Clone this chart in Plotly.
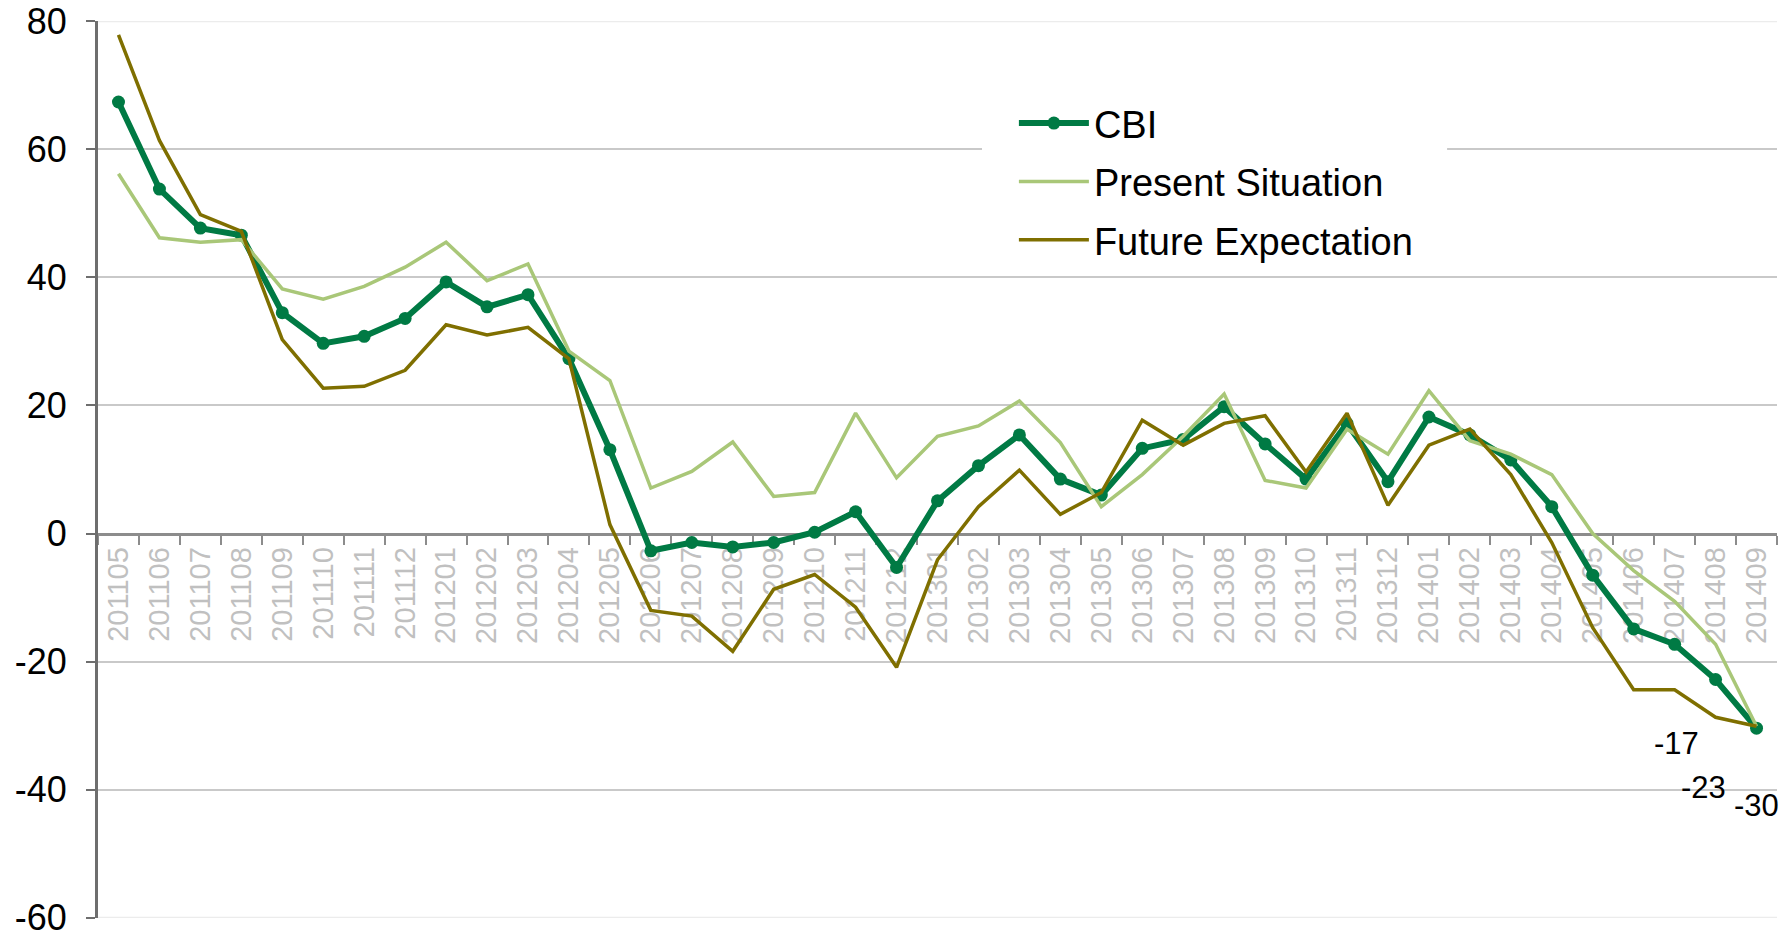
import plotly.graph_objects as go

months = ["201105", "201106", "201107", "201108", "201109", "201110", "201111", "201112",
          "201201", "201202", "201203", "201204", "201205", "201206", "201207", "201208",
          "201209", "201210", "201211", "201212", "201301", "201302", "201303", "201304",
          "201305", "201306", "201307", "201308", "201309", "201310", "201311", "201312",
          "201401", "201402", "201403", "201404", "201405", "201406", "201407", "201408",
          "201409"]

cbi = [67.4, 53.8, 47.7, 46.6, 34.5, 29.7, 30.8, 33.6, 39.3, 35.4, 37.3, 27.3, 13.1,
       -2.7, -1.4, -2.1, -1.4, 0.2, 3.4, -5.3, 5.1, 10.6, 15.4, 8.5, 6.0, 13.3, 14.7,
       19.8, 14.0, 8.5, 17.2, 8.1, 18.2, 15.4, 11.5, 4.2, -6.5, -14.9, -17.3, -22.8, -30.4]

present = [56.2, 46.2, 45.5, 45.9, 38.2, 36.6, 38.6, 41.6, 45.5, 39.5, 42.1, 28.5, 23.9,
           7.1, 9.7, 14.3, 5.8, 6.4, 18.8, 8.7, 15.2, 16.8, 20.7, 14.2, 4.2, 9.2, 15.2,
           21.8, 8.3, 7.1, 16.3, 12.4, 22.3, 14.5, 12.4, 9.2, 0.0, -5.8, -10.6, -17.3, -30.1]

future = [77.9, 61.4, 49.8, 47.2, 30.3, 22.7, 23.0, 25.5, 32.6, 31.0, 32.2, 27.3, 1.4,
          -12.0, -12.9, -18.4, -8.7, -6.4, -11.5, -20.9, -4.1, 4.2, 9.9, 3.0, 6.4, 17.7,
          13.8, 17.2, 18.4, 9.6, 18.8, 4.4, 13.8, 16.3, 9.2, -1.4, -14.7, -24.4, -24.4,
          -28.7, -30.1]

label_months = ["201407", "201408", "201409"]
label_texts = ["-17", "-23", "-30"]

y_ticks = [-60, -40, -20, 0, 20, 40, 60, 80]
y_tick_labels = ["-60", "-40", "-20", "0", "20", "40", "60", "80"]

series_names = ["CBI", "Present Situation", "Future Expectation"]

C_CBI = "#007A44"
C_PRES = "#A9C778"
C_FUT = "#7F6F00"
FONT = "Liberation Sans, Arial, sans-serif"

fig = go.Figure()
fig.add_trace(go.Scatter(
    x=months, y=cbi, name=series_names[0], mode="lines+markers",
    line=dict(color=C_CBI, width=6), marker=dict(size=13, color=C_CBI),
    legendgroup="a"))
fig.add_trace(go.Scatter(
    x=months, y=present, name=series_names[1], mode="lines",
    line=dict(color=C_PRES, width=3.5), legendgroup="b"))
fig.add_trace(go.Scatter(
    x=months, y=future, name=series_names[2], mode="lines",
    line=dict(color=C_FUT, width=3.5), legendgroup="c"))

shifts = {"201407": (2, -99), "201408": (-12, -108), "201409": (0, -77)}
for m, t in zip(label_months, label_texts):
    i = months.index(m)
    xs, ys = shifts[m]
    fig.add_annotation(x=i, y=cbi[i], xref="x", yref="y", text=t, showarrow=False,
                       xshift=xs, yshift=ys,
                       font=dict(family=FONT, size=31, color="black"))

# white area behind the legend, hiding the gridline as in the reference
fig.add_shape(type="rect", xref="paper", yref="y", x0=0.5265, x1=0.8035, y0=44, y1=76,
              fillcolor="white", line=dict(width=0), layer="above")

# faint edge gridlines at the ends of the value axis
for yv in (y_ticks[0], y_ticks[-1]):
    fig.add_shape(type="line", xref="paper", yref="y", x0=0, x1=1, y0=yv, y1=yv,
                  line=dict(color="#ececec", width=2), layer="between")

fig.update_layout(
    width=1787, height=940,
    margin=dict(l=98, r=10, t=21, b=22, autoexpand=False),
    paper_bgcolor="white", plot_bgcolor="white",
    font=dict(family=FONT, color="black"),
    showlegend=True,
    legend=dict(x=0.5455, y=0.921, xanchor="left", yanchor="top",
                bgcolor="rgba(255,255,255,0)", borderwidth=0,
                font=dict(family=FONT, size=38, color="black"),
                tracegroupgap=6, itemwidth=70, traceorder="grouped"),
    xaxis=dict(type="category", categoryorder="array", categoryarray=months,
               range=[-0.5, len(months) - 0.5], automargin=False,
               anchor="free", position=60 / 140,
               showline=True, linecolor="#8c8c8c", linewidth=3,
               ticks="outside", ticklen=9, tickwidth=2, tickcolor="#8c8c8c",
               tickson="boundaries", tickangle=-90,
               tickfont=dict(family=FONT, size=29, color="#c0c0c0"),
               showgrid=False, zeroline=False, layer="below traces"),
    yaxis=dict(range=[-60.05, 80.05], tickmode="array", tickvals=y_ticks,
               ticktext=y_tick_labels, ticklabeloverflow="allow", automargin=False,
               showline=True, linecolor="#6e6e6e", linewidth=3,
               ticks="outside", ticklen=9, tickwidth=2, tickcolor="#6e6e6e",
               showgrid=True, gridcolor="#c9c9c9", gridwidth=2,
               zeroline=False,
               tickfont=dict(family=FONT, size=36, color="black"),
               ticklabelstandoff=12),
)

fig.write_html("out.html", config={"displayModeBar": False},
               post_script="document.body.style.margin='0';")
